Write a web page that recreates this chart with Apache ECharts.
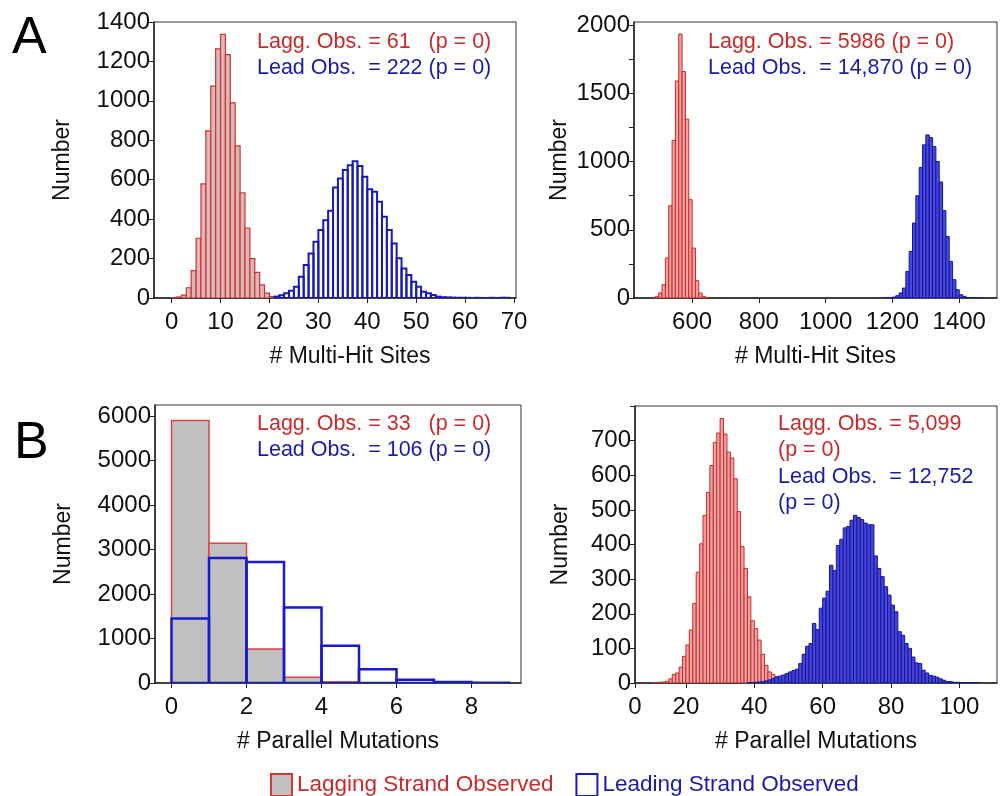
<!DOCTYPE html>
<html>
<head>
<meta charset="utf-8">
<script src="https://cdn.jsdelivr.net/npm/echarts@6/dist/echarts.min.js"></script>
<style>html,body{margin:0;padding:0;background:#fff}#chart{width:1000px;height:796px}</style>
</head>
<body>
<div id="chart"></div>
<script>
// ---------- DATA ----------
// Panel A left: # Multi-Hit Sites (bin width 1)
const aLeftLagStart = 0;
const aLeftLagCounts = [2, 5, 15, 52, 139, 303, 579, 848, 1075, 1264, 1337, 1235, 990, 772, 534, 355, 200, 130, 67, 25, 7, 2];
const aLeftLeadStart = 21;
const aLeftLeadCounts = [7, 14, 24, 37, 57, 108, 167, 226, 285, 345, 395, 443, 561, 606, 649, 674, 694, 669, 615, 551, 539, 488, 412, 345, 277, 201, 150, 117, 83, 57, 32, 24, 15, 7, 4, 3, 2, 1, 1, 1, 0, 1, 0, 0, 1, 0, 1, 1];
const aLeftBinWidth = 1;
const aLeftXTicks = [0, 10, 20, 30, 40, 50, 60, 70];
const aLeftYTicks = [0, 200, 400, 600, 800, 1000, 1200, 1400];

// Panel A right: # Multi-Hit Sites (bin width 10)
const aRightLagStart = 480;
const aRightLagCounts = [3, 12, 37, 98, 293, 676, 1154, 1590, 1934, 1659, 1310, 720, 366, 127, 37, 12, 3];
const aRightLeadStart = 1170;
const aRightLeadCounts = [1, 2, 3, 7, 17, 37, 73, 195, 341, 549, 749, 956, 1122, 1195, 1175, 1110, 1000, 850, 640, 450, 268, 134, 61, 24, 12, 4, 2, 1, 1, 0];
const aRightBinWidth = 10;
const aRightXTicks = [600, 800, 1000, 1200, 1400];
const aRightYLabels = [0, 500, 1000, 1500, 2000];
const aRightYTicks = [0, 250, 500, 750, 1000, 1250, 1500, 1750, 2000];

// Panel B left: # Parallel Mutations (bin width 1)
const bLeftLagStart = 0;
const bLeftLagCounts = [5900, 3140, 765, 130, 20];
const bLeftLeadStart = 0;
const bLeftLeadCounts = [1450, 2810, 2720, 1700, 835, 307, 75, 22, 7];
const bLeftBinWidth = 1;
const bLeftXTicks = [0, 2, 4, 6, 8];
const bLeftYTicks = [0, 1000, 2000, 3000, 4000, 5000, 6000];

// Panel B right: # Parallel Mutations (bin width 1)
const bRightLagStart = 10;
const bRightLagCounts = [1, 1, 2, 3, 5, 12, 25, 29, 46, 77, 110, 153, 230, 320, 402, 484, 550, 628, 695, 722, 764, 719, 667, 650, 590, 495, 394, 331, 249, 180, 157, 124, 83, 51, 32, 25, 13, 5, 2, 1];
const bRightLeadStart = 38;
const bRightLeadCounts = [1, 1, 2, 3, 4, 6, 9, 13, 18, 20, 23, 27, 32, 36, 40, 56, 83, 106, 114, 172, 154, 216, 245, 265, 340, 325, 397, 415, 448, 452, 470, 484, 478, 472, 462, 457, 457, 367, 331, 307, 278, 254, 225, 206, 148, 138, 114, 100, 75, 58, 56, 37, 29, 22, 20, 17, 12, 8, 4, 4, 2, 2, 1, 1, 1, 1, 1, 1];
const bRightBinWidth = 1;
const bRightXTicks = [0, 20, 40, 60, 80, 100];
const bRightYLabels = [0, 100, 200, 300, 400, 500, 600, 700];
const bRightYTicks = [0, 100, 200, 300, 400, 500, 600, 700, 800];

// Annotations
const annA1 = ['Lagg. Obs. = 61   (p = 0)', 'Lead Obs.  = 222 (p = 0)'];
const annA2 = ['Lagg. Obs. = 5986 (p = 0)', 'Lead Obs.  = 14,870 (p = 0)'];
const annB1 = ['Lagg. Obs. = 33   (p = 0)', 'Lead Obs.  = 106 (p = 0)'];
const annB2 = ['Lagg. Obs. = 5,099', '(p = 0)', 'Lead Obs.  = 12,752', '(p = 0)'];
const legendNames = ['Lagging Strand Observed', 'Leading Strand Observed'];

// ---------- STYLE ----------
const FONT = '"Liberation Sans", Arial, sans-serif';
const RED_TXT = '#cc2a2a';
const BLUE_TXT = '#1c1caa';
const TICK_FS = 24;
const NAME_FS = 23;

function hist(name, gi, start, width, counts, fill, stroke, lw) {
  return {
    type: 'custom', name: name, xAxisIndex: gi, yAxisIndex: gi,
    data: counts.map((c, i) => [start + i * width, c]),
    encode: { x: 0, y: 1 },
    clip: true,
    silent: true,
    renderItem: function (params, api) {
      const x0 = api.value(0), c = api.value(1);
      const p0 = api.coord([x0, 0]);
      const p1 = api.coord([x0 + width, c]);
      return {
        type: 'rect',
        shape: { x: p0[0], y: p1[1], width: p1[0] - p0[0], height: p0[1] - p1[1] },
        style: { fill: fill, stroke: stroke, lineWidth: lw }
      };
    }
  };
}

function plain(v) { return String(v); }

function xAxis(gi, min, max, ticks, name, labelFmt, namePad) {
  return {
    type: 'value', gridIndex: gi, min: min, max: max, name: name,
    nameLocation: 'middle', nameGap: 47,
    nameTextStyle: { fontFamily: FONT, fontSize: NAME_FS, color: '#111', padding: namePad || 0 },
    axisLine: { show: true, onZero: false, lineStyle: { color: '#222', width: 1.5 } },
    axisTick: { show: true, length: 5, customValues: ticks, lineStyle: { color: '#222', width: 1 } },
    axisLabel: { customValues: ticks, margin: 12, fontFamily: FONT, fontSize: TICK_FS, color: '#111', formatter: labelFmt || plain },
    splitLine: { show: false }
  };
}
function yAxis(gi, min, max, labels, ticks, nameGap) {
  return {
    type: 'value', gridIndex: gi, min: min, max: max, name: 'Number',
    nameLocation: 'middle', nameGap: nameGap, nameRotate: 90,
    nameTextStyle: { fontFamily: FONT, fontSize: NAME_FS, color: '#111' },
    axisLine: { show: true, onZero: false, lineStyle: { color: '#222', width: 1.5 } },
    axisTick: { show: true, length: 5, customValues: ticks, lineStyle: { color: '#222', width: 1 } },
    axisLabel: { customValues: labels, margin: 4, fontFamily: FONT, fontSize: TICK_FS, color: '#111', formatter: plain },
    splitLine: { show: false }
  };
}

function ann(left, top, lines, colors, step) {
  return lines.map((t, i) => ({
    type: 'text', left: left, top: top + i * step, z: 100,
    style: { text: t, fill: colors[i], font: '21.5px ' + FONT }
  }));
}

const bRightMin = 5.1;
const grids = [
  { left: 154, top: 22, width: 362, height: 276 },
  { left: 634, top: 22, width: 363, height: 276 },
  { left: 155, top: 405, width: 366, height: 278 },
  { left: 635, top: 406, width: 362, height: 277 }
].map(g => Object.assign({ show: true, borderColor: '#333', borderWidth: 1, backgroundColor: '#fff' }, g));

const option = {
  animation: false,
  backgroundColor: '#fff',
  grid: grids,
  xAxis: [
    xAxis(0, -3.6, 70.4, aLeftXTicks, '# Multi-Hit Sites', null, [0, 0, 0, 30]),
    xAxis(1, 426, 1513, aRightXTicks, '# Multi-Hit Sites'),
    xAxis(2, -0.44, 9.32, bLeftXTicks, '# Parallel Mutations'),
    xAxis(3, bRightMin, 111, bRightXTicks.map(v => Math.max(v, bRightMin)), '# Parallel Mutations',
      function (v) { return v === bRightMin ? '0' : String(v); })
  ],
  yAxis: [
    yAxis(0, 0, 1400, aLeftYTicks, aLeftYTicks, 80),
    yAxis(1, 0, 2022, aRightYLabels, aRightYTicks, 63),
    yAxis(2, 0, 6250, bLeftYTicks, bLeftYTicks, 80),
    yAxis(3, 0, 800, bRightYLabels, bRightYTicks, 63)
  ],
  legend: {
    left: 270, top: 773, itemWidth: 21, itemHeight: 22, itemGap: 22, selectedMode: false, padding: 0,
    textStyle: { fontFamily: FONT, fontSize: 22.5, lineHeight: 24 },
    data: [
      { name: legendNames[0], icon: 'rect', itemStyle: { color: '#c0c0c0', borderColor: '#dd3333', borderWidth: 2 }, textStyle: { color: RED_TXT } },
      { name: legendNames[1], icon: 'rect', itemStyle: { color: '#ffffff', borderColor: '#1a1acc', borderWidth: 2 }, textStyle: { color: BLUE_TXT } }
    ]
  },
  series: [
    hist(legendNames[0], 0, aLeftLagStart, aLeftBinWidth, aLeftLagCounts, '#dbb8b8', '#cc3333', 1.2),
    hist(legendNames[1], 0, aLeftLeadStart, aLeftBinWidth, aLeftLeadCounts, 'rgba(255,255,255,0)', '#1a1ab8', 2),
    hist(legendNames[0], 1, aRightLagStart, aRightBinWidth, aRightLagCounts, '#eea3a3', '#cc2a2a', 1),
    hist(legendNames[1], 1, aRightLeadStart, aRightBinWidth, aRightLeadCounts, '#4848dc', '#15159c', 1),
    hist(legendNames[0], 2, bLeftLagStart, bLeftBinWidth, bLeftLagCounts, '#c0c0c0', '#dd4444', 1.5),
    hist(legendNames[1], 2, bLeftLeadStart, bLeftBinWidth, bLeftLeadCounts, 'rgba(255,255,255,0)', '#1a1acc', 2.5),
    hist(legendNames[0], 3, bRightLagStart, bRightBinWidth, bRightLagCounts, '#eaa4a4', '#cc2a2a', 1),
    hist(legendNames[1], 3, bRightLeadStart, bRightBinWidth, bRightLeadCounts, '#4444d8', '#15159c', 1)
  ],
  graphic: [
    { type: 'text', left: 12, top: 13, style: { text: 'A', fill: '#000', font: '52px ' + FONT } },
    { type: 'text', left: 14, top: 418, style: { text: 'B', fill: '#000', font: '52px ' + FONT } }
  ]
    .concat(ann(257, 31, annA1, [RED_TXT, BLUE_TXT], 26))
    .concat(ann(708, 31, annA2, [RED_TXT, BLUE_TXT], 26))
    .concat(ann(257, 413, annB1, [RED_TXT, BLUE_TXT], 26))
    .concat(ann(778, 413, annB2, [RED_TXT, RED_TXT, BLUE_TXT, BLUE_TXT], 26.5))
};

const chart = echarts.init(document.getElementById('chart'), null, { renderer: 'canvas' });
chart.setOption(option);
</script>
</body>
</html>
